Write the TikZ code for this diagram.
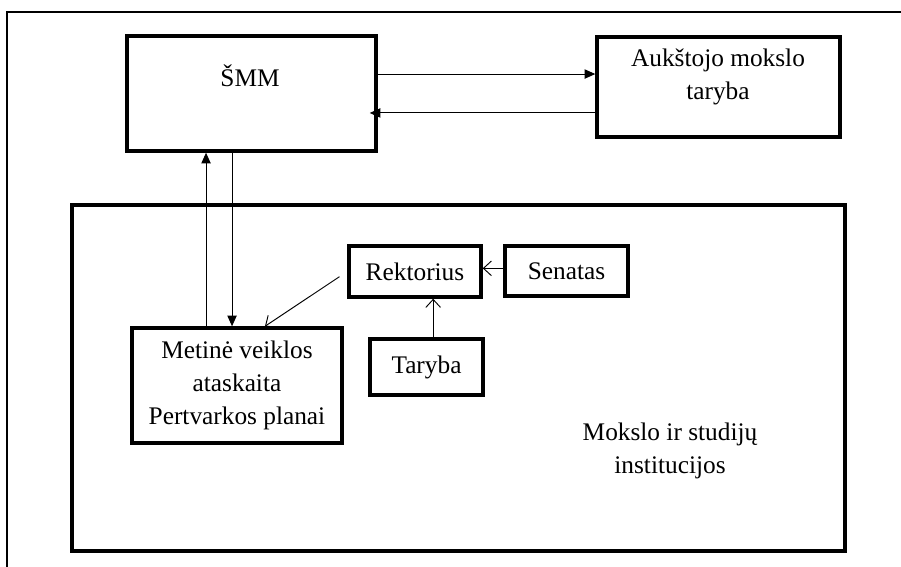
\documentclass[tikz,border=0pt]{standalone}
\usepackage{fontspec}
\setmainfont{Liberation Serif}
\usepackage{tikz}
\usetikzlibrary{positioning, arrows.meta}

\begin{document}
\begin{tikzpicture}[x=0.75pt, y=-0.75pt,
    box/.style={draw, rectangle, line width=2.6pt, inner sep=0pt, font=\fontsize{19}{25}\selectfont, align=center},
    txt/.style={inner sep=0pt, font=\fontsize{19}{25}\selectfont, align=center},
    solidarr/.style={-{Triangle[length=8pt, width=7pt]}, line width=0.7pt},
    openarr/.style={-{Straight Barb[length=6pt, width=11pt]}, line width=0.7pt}]
    \useasboundingbox (0,0) rectangle (901,567);
    \clip (0,0) rectangle (901,567);
    \draw[line width=1.8pt] (7,12) rectangle (930,600);

    \node[box, minimum width=186.75pt, minimum height=86.25pt] (smm) at (251.5,93.5) {};
    \node[txt, anchor=base] (smmtxt) at (250,87) {ŠMM};
    \node[box, minimum width=182.25pt, minimum height=75pt] (ams) at (718.5,87) {};
    \node[txt] (amstxt) at (718,77) {Aukštojo mokslo\\taryba};

    \node[box, minimum width=579.75pt, minimum height=259.5pt] (inst) at (458.5,378) {};
    \node[txt] (insttxt) at (670,451) {Mokslo ir studijų\\institucijos};

    \node[box, minimum width=99pt, minimum height=38.25pt] (rekt) at (415,271.5) {Rektorius};
    \node[box, minimum width=92.25pt, minimum height=37.5pt] (senatas) at (566.5,271) {Senatas};
    \node[box, minimum width=84.75pt, minimum height=42pt] (taryba) at (426.5,367) {Taryba};
    \node[box, minimum width=157.5pt, minimum height=86.25pt] (metine) at (237,385.5)
        {Metinė veiklos\\ataskaita\\Pertvarkos planai};

    \draw[solidarr] ([yshift=14.6pt]smm.east) -- ([yshift=14.6pt]smm.east -| ams.west);
    \draw[solidarr, shorten >=-6pt] ([yshift=-14.6pt]smm.east -| ams.west) -- ([yshift=-14.6pt]smm.east);
    \draw[solidarr] ([xshift=-34.1pt]smm.south |- metine.north) -- ([xshift=-34.1pt]smm.south);
    \draw[solidarr] ([xshift=-14.6pt]smm.south) -- ([xshift=-14.6pt]smm.south |- metine.north);

    \draw[openarr, shorten <=7pt] (rekt.west) -- ([xshift=21pt]metine.north);
    \draw[openarr] ([yshift=2pt]senatas.west) -- ([yshift=2pt]senatas.west -| rekt.east);
    \draw[openarr] ([xshift=5pt]taryba.north) -- ([xshift=5pt]taryba.north |- rekt.south);
\end{tikzpicture}
\end{document}
